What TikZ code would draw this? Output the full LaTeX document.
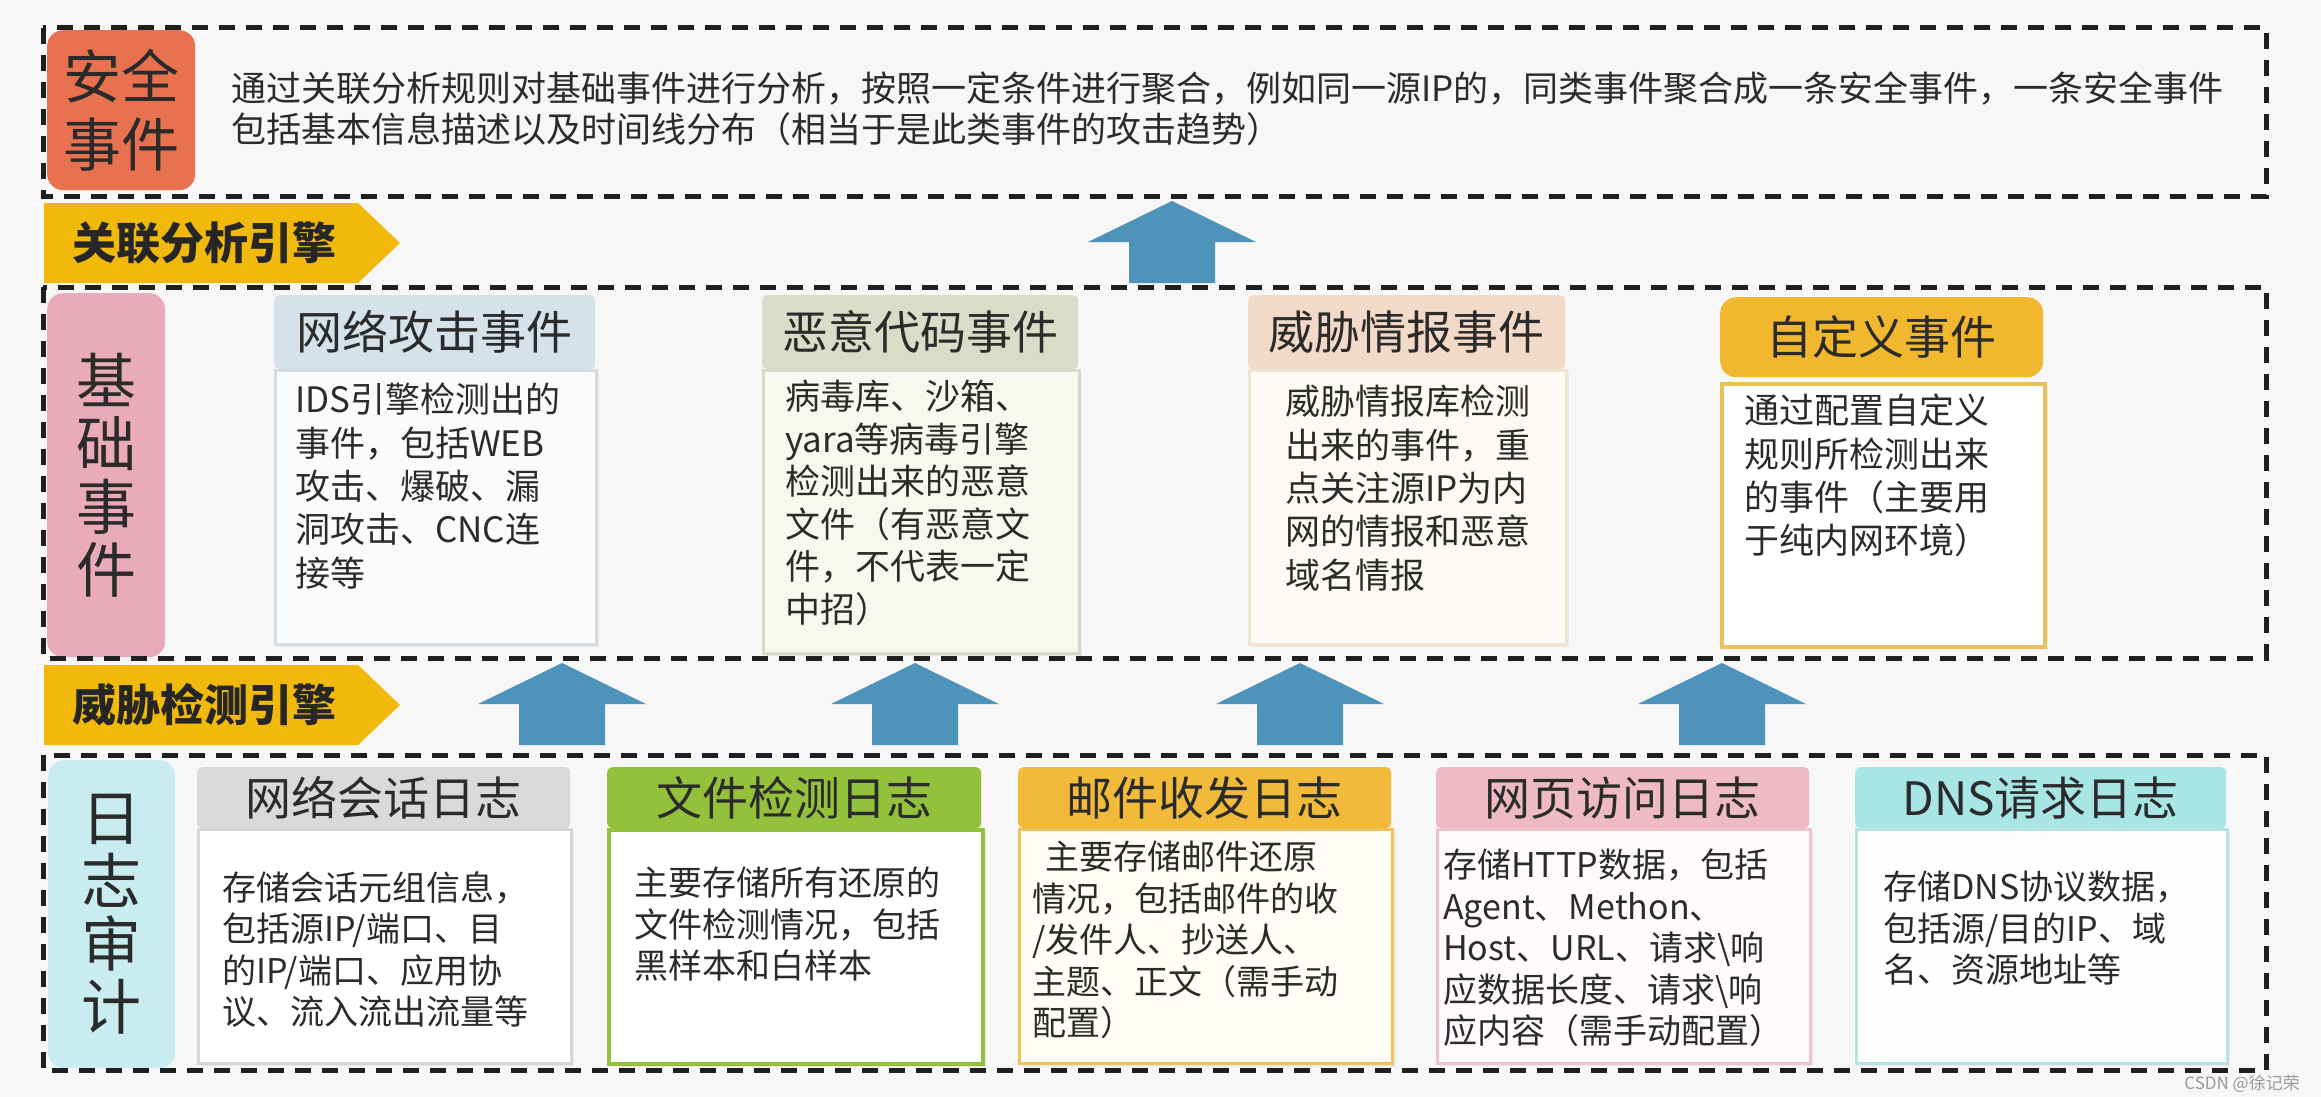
\documentclass[tikz,border=0pt]{standalone}
\usepackage{fontspec}
\setmainfont{Noto Sans CJK SC}
\usetikzlibrary{shadows}
\definecolor{bg}{HTML}{F7F7F8}
\definecolor{txt}{HTML}{2B2B2B}
\definecolor{tagc}{HTML}{F0B90B}
\definecolor{arrowblue}{HTML}{4E93BA}
\definecolor{safec}{HTML}{E8714F}
\definecolor{basec}{HTML}{E9AABA}
\definecolor{logc}{HTML}{C9ECF0}
% middle cards
\definecolor{hA}{HTML}{D6E2EA}\definecolor{bA}{HTML}{FAFBFC}\definecolor{rA}{HTML}{D3DCE2}
\definecolor{hB}{HTML}{D9DCC7}\definecolor{bB}{HTML}{F8F8F1}\definecolor{rB}{HTML}{D8D8CC}
\definecolor{hC}{HTML}{F3D9C7}\definecolor{bC}{HTML}{FDFAF5}\definecolor{rC}{HTML}{EFE3D3}
\definecolor{hD}{HTML}{F0B72F}\definecolor{bD}{HTML}{FFFFFF}\definecolor{rD}{HTML}{E8C158}
% bottom cards
\definecolor{hE}{HTML}{D9D9D9}\definecolor{bE}{HTML}{FFFFFF}\definecolor{rE}{HTML}{D6D6D6}
\definecolor{hF}{HTML}{93C13C}\definecolor{bF}{HTML}{FFFFFF}\definecolor{rF}{HTML}{93C13C}
\definecolor{hG}{HTML}{F2BA3B}\definecolor{bG}{HTML}{FFFDF6}\definecolor{rG}{HTML}{EDC35C}
\definecolor{hH}{HTML}{EDBAC5}\definecolor{bH}{HTML}{FFFAFB}\definecolor{rH}{HTML}{EDC4CD}
\definecolor{hI}{HTML}{A8E6E6}\definecolor{bI}{HTML}{FDFFFF}\definecolor{rI}{HTML}{B5E4E4}
\begin{document}
\begin{tikzpicture}[x=1pt,y=-1pt,
  dbox/.style={draw=black!88, line width=5pt, dash pattern=on 16pt off 11pt},
  hd/.style={anchor=north west, inner sep=0pt, text=txt, rounded corners=5pt,
    font=\fontsize{46}{50}\selectfont},
  bodybox/.style={anchor=north west, inner sep=0pt, line width=2.5pt,
    drop shadow={opacity=0.12, shadow xshift=3pt, shadow yshift=-3pt}},
  btext/.style={anchor=north west, inner sep=0pt, align=left, text=txt,
    font=\fontsize{34}{41.5}\selectfont},
  mtext/.style={btext, font=\fontsize{35}{43.3}\selectfont},
  side/.style={anchor=north west, inner sep=0pt, rounded corners=16pt, align=center,
    text=txt, font=\fontsize{60}{63}\selectfont},
  tagtext/.style={anchor=west, inner sep=0pt, text=black!85,
    font=\fontsize{44}{46}\selectfont\bfseries},
  uparr/.pic={\fill[arrowblue] (-43,0) -- (-43,-41) -- (-84,-41) -- (0,-82) -- (84,-41) -- (43,-41) -- (43,0) -- cycle;}
]
\useasboundingbox (0,0) rectangle (2321,1097);
\fill[bg] (0,0) rectangle (2321,1097);

% ---------- top section ----------
\node[side, fill=safec, minimum width=148pt, minimum height=160pt, font=\fontsize{58}{68}\selectfont] (safe) at (47,30) {安全\\事件};
\node[btext, font=\fontsize{35}{41}\selectfont] (safetext) at (231,72)
 {通过关联分析规则对基础事件进行分析，按照一定条件进行聚合，例如同一源IP的，同类事件聚合成一条安全事件，一条安全事件\\
  包括基本信息描述以及时间线分布（相当于是此类事件的攻击趋势）};
\draw[dbox] (43,28) rectangle (2266,196);

% tag 1
\fill[tagc] (44,203) -- (358,203) -- (400,243) -- (358,283) -- (44,283) -- cycle;
\node[tagtext] (tag1) at (72,243) {关联分析引擎};
\pic (a0) at (1172,283) {uparr};

% ---------- middle section ----------
\node[side, fill=basec, minimum width=118pt, minimum height=364pt] (base) at (47,293) {基\\础\\事\\件};

% card A
\node[bodybox, draw=rA, fill=bA, minimum width=321pt, minimum height=274pt] (bodyA) at (274,369) {};
\node[hd, fill=hA, minimum width=321pt, minimum height=74pt] (headA) at (274,295) {网络攻击事件};
\node[mtext] (textA) at (295,383) {IDS引擎检测出的\\事件，包括WEB\\攻击、爆破、漏\\洞攻击、CNC连\\接等};

% card B
\node[bodybox, draw=rB, fill=bB, minimum width=316pt, minimum height=283pt] (bodyB) at (762,369) {};
\node[hd, fill=hB, minimum width=316pt, minimum height=74pt] (headB) at (762,295) {恶意代码事件};
\node[mtext, font=\fontsize{35}{42.5}\selectfont] (textB) at (785,380) {病毒库、沙箱、\\yara等病毒引擎\\检测出来的恶意\\文件（有恶意文\\件，不代表一定\\中招）};

% card C
\node[bodybox, draw=rC, fill=bC, minimum width=317pt, minimum height=274pt] (bodyC) at (1248,369) {};
\node[hd, fill=hC, minimum width=317pt, minimum height=74pt] (headC) at (1248,295) {威胁情报事件};
\node[mtext] (textC) at (1285,385) {威胁情报库检测\\出来的事件，重\\点关注源IP为内\\网的情报和恶意\\域名情报};

% card D
\node[bodybox, draw=rD, fill=bD, line width=4pt, minimum width=323pt, minimum height=263pt] (bodyD) at (1720,382) {};
\node[hd, fill=hD, rounded corners=16pt, minimum width=323pt, minimum height=80pt] (headD) at (1720,297) {自定义事件};
\node[mtext] (textD) at (1744,394) {通过配置自定义\\规则所检测出来\\的事件（主要用\\于纯内网环境）};

\draw[dbox] (43,287) rectangle (2266,658);

% tag 2
\fill[tagc] (44,665) -- (358,665) -- (400,705) -- (358,745) -- (44,745) -- cycle;
\node[tagtext] (tag2) at (72,705) {威胁检测引擎};
\pic (a1) at (562,745) {uparr};
\pic (a2) at (915,745) {uparr};
\pic (a3) at (1300,745) {uparr};
\pic (a4) at (1722,745) {uparr};

% ---------- bottom section ----------
\node[side, fill=logc, minimum width=127pt, minimum height=308pt] (logs) at (48,760) {日\\志\\审\\计};

% card E
\node[bodybox, draw=rE, fill=bE, minimum width=373pt, minimum height=234pt] (bodyE) at (197,828) {};
\node[hd, fill=hE, minimum width=373pt, minimum height=61pt] (headE) at (197,767) {网络会话日志};
\node[btext] (textE) at (222,871) {存储会话元组信息，\\包括源IP/端口、目\\的IP/端口、应用协\\议、流入流出流量等};

% card F
\node[bodybox, draw=rF, fill=bF, line width=4pt, minimum width=374pt, minimum height=234pt] (bodyF) at (607,828) {};
\node[hd, fill=hF, minimum width=374pt, minimum height=61pt] (headF) at (607,767) {文件检测日志};
\node[btext] (textF) at (634,867) {主要存储所有还原的\\文件检测情况，包括\\黑样本和白样本};

% card G
\node[bodybox, draw=rG, fill=bG, line width=3pt, minimum width=373pt, minimum height=234pt] (bodyG) at (1018,828) {};
\node[hd, fill=hG, minimum width=373pt, minimum height=61pt] (headG) at (1018,767) {邮件收发日志};
\node[btext] (textG) at (1032,841) {\hspace{0.4em}主要存储邮件还原\\情况，包括邮件的收\\/发件人、抄送人、\\主题、正文（需手动\\配置）};

% card H
\node[bodybox, draw=rH, fill=bH, minimum width=373pt, minimum height=234pt] (bodyH) at (1436,828) {};
\node[hd, fill=hH, minimum width=373pt, minimum height=61pt] (headH) at (1436,767) {网页访问日志};
\node[btext] (textH) at (1443,849) {存储HTTP数据，包括\\Agent、Methon、\\Host、URL、请求\textbackslash 响\\应数据长度、请求\textbackslash 响\\应内容（需手动配置）};

% card I
\node[bodybox, draw=rI, fill=bI, minimum width=371pt, minimum height=234pt] (bodyI) at (1855,828) {};
\node[hd, fill=hI, minimum width=371pt, minimum height=61pt] (headI) at (1855,767) {DNS请求日志};
\node[btext] (textI) at (1883,871) {存储DNS协议数据，\\包括源/目的IP、域\\名、资源地址等};

\draw[dbox] (43,755) rectangle (2266,1070);

% watermark
\node[anchor=east, inner sep=0pt, text=black!40, font=\fontsize{17}{18}\selectfont] (wm) at (2300,1084) {CSDN @徐记荣};
\end{tikzpicture}
\end{document}
